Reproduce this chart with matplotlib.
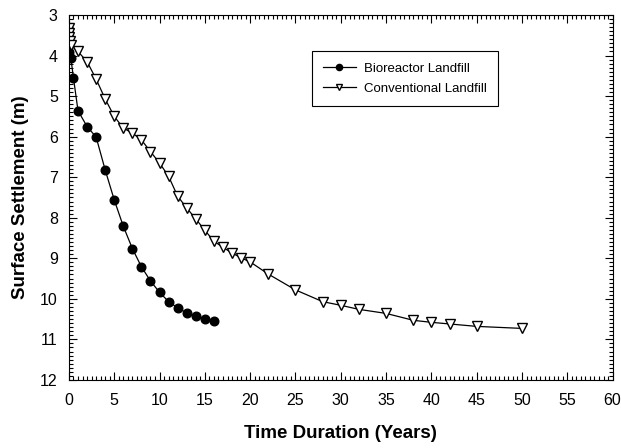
import matplotlib.pyplot as plt
from matplotlib.ticker import MultipleLocator

plt.rcParams["font.family"] = ["Liberation Sans", "DejaVu Sans"]

# Bioreactor landfill: time (years) vs surface settlement (m)
bio_years = [0, 0.2, 0.5, 1, 2, 3, 4, 5, 6, 7, 8, 9, 10, 11, 12, 13, 14, 15, 16]
bio_settle = [3.92, 4.05, 4.55, 5.36, 5.75, 6.01, 6.82, 7.56, 8.21, 8.76, 9.21,
              9.56, 9.84, 10.07, 10.22, 10.35, 10.43, 10.49, 10.54]

# Conventional landfill
conv_years = [0, 0.03, 0.06, 0.1, 0.25, 1, 2, 3, 4, 5, 6, 7, 8, 9, 10, 11, 12,
              13, 14, 15, 16, 17, 18, 19, 20, 22, 25, 28, 30, 32, 35, 38, 40,
              42, 45, 50]
conv_settle = [3.33, 3.45, 3.55, 3.65, 3.75, 3.9, 4.15, 4.58, 5.07, 5.5, 5.79,
               5.91, 6.08, 6.37, 6.65, 6.98, 7.47, 7.76, 8.03, 8.31, 8.58, 8.73,
               8.87, 8.99, 9.09, 9.39, 9.78, 10.07, 10.16, 10.26, 10.36, 10.53,
               10.58, 10.62, 10.68, 10.73]

fig = plt.figure(figsize=(6.21, 4.48), dpi=100)
ax = fig.add_axes([0.111, 0.152, 0.8755, 0.8145])

ax.plot(bio_years, bio_settle, color="black", linewidth=0.9, marker="o",
        markersize=6.2, markerfacecolor="black", label="Bioreactor Landfill")
ax.plot(conv_years, conv_settle, color="black", linewidth=0.9, marker="v",
        markersize=6.8, markerfacecolor="white", markeredgewidth=1.0,
        label="Conventional Landfill")

ax.set_xlim(0, 60)
ax.set_ylim(12, 3)
ax.xaxis.set_major_locator(MultipleLocator(5))
ax.xaxis.set_minor_locator(MultipleLocator(0.5))
ax.yaxis.set_major_locator(MultipleLocator(1))
ax.yaxis.set_minor_locator(MultipleLocator(0.1))
ax.tick_params(which="both", direction="in", top=True, right=True,
               labelsize=11.5, width=0.8, colors="black")
ax.tick_params(which="major", length=6, pad=8)
ax.tick_params(axis="x", which="major", pad=9.5)
ax.tick_params(which="minor", length=3)
for spine in ax.spines.values():
    spine.set_linewidth(0.8)

ax.set_xlabel("Time Duration (Years)", fontsize=13.5, fontweight="bold", labelpad=12)
ax.set_ylabel("Surface Settlement (m)", fontsize=13.5, fontweight="bold", labelpad=8)

leg = ax.legend(loc="upper left", bbox_to_anchor=(0.4465, 0.9), fontsize=9.5,
                fancybox=False, edgecolor="black", framealpha=1, markerscale=0.72,
                handlelength=2.5, handletextpad=0.6, borderpad=0.85,
                labelspacing=0.6, borderaxespad=0)
leg.get_frame().set_linewidth(0.8)

fig.savefig("out.png", dpi=100)
